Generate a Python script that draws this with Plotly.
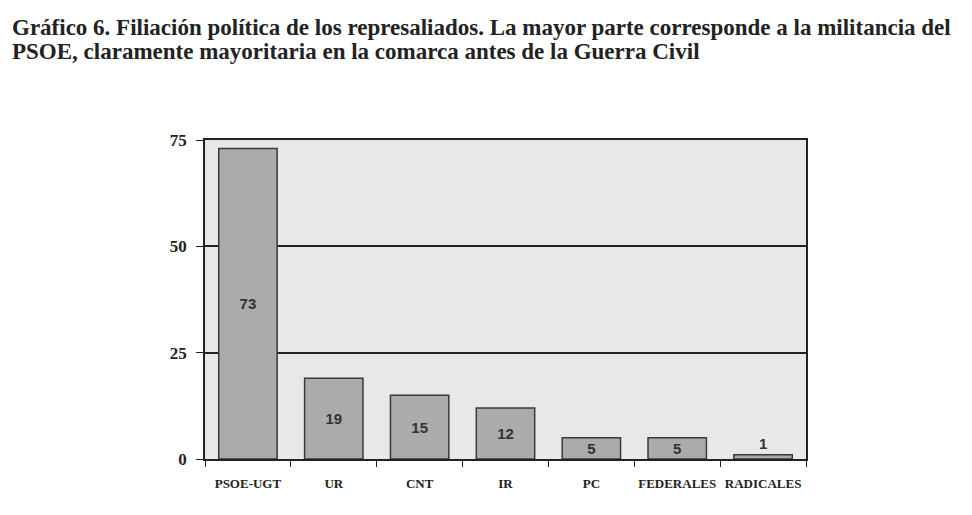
import plotly.graph_objects as go

# Afiliación política de los represaliados
partidos = ["PSOE-UGT", "UR", "CNT", "IR", "PC", "FEDERALES", "RADICALES"]
represaliados = [73, 19, 15, 12, 5, 5, 1]
posicion_texto = ["inside", "inside", "inside", "inside", "inside", "inside", "outside"]
y_ticks = [0, 25, 50, 75]

titulo = [
    "Gráfico 6. Filiación política de los represaliados. La mayor parte corresponde a la militancia del",
    "PSOE, claramente mayoritaria en la comarca antes de la Guerra Civil",
]

serif = "Liberation Serif, Times New Roman, serif"

# the page body adds 8px around the figure
W, H = 964, 507
L, T, R, B = 197, 132, 166, 56
pw, ph = W - L - R, H - T - B

fig = go.Figure(go.Bar(
    x=partidos,
    y=represaliados,
    text=represaliados,
    textposition=posicion_texto,
    insidetextanchor="middle",
    textangle=0,
    textfont=dict(family="Liberation Sans, Arial, sans-serif", size=15,
                  color="#333333", weight="bold"),
    constraintext="none",
    cliponaxis=False,
    marker=dict(color="#ababab", line=dict(color="#3a3a3a", width=1.5)),
))

fig.update_layout(
    width=W,
    height=H,
    margin=dict(l=L, r=R, t=T, b=B, autoexpand=False),
    paper_bgcolor="white",
    plot_bgcolor="#e8e8e8",
    bargap=0.32,
    showlegend=False,
    font=dict(family=serif, color="black"),
)

# two title lines, placed one by one for the tight line spacing
for i, linea in enumerate(titulo):
    fig.add_annotation(
        text=linea,
        xref="paper", yref="paper",
        x=(2 - L) / pw, y=1 + (T - (20 + 24 * i)) / ph,
        xanchor="left", yanchor="middle",
        showarrow=False,
        font=dict(family=serif, size=23, color="#222222", weight="bold"),
    )

fig.update_xaxes(
    showline=True, linecolor="#222222", linewidth=1.5, mirror=True,
    ticks="outside", tickson="boundaries", ticklen=6, tickcolor="#222222",
    tickfont=dict(family=serif, size=13, color="#222222", weight="bold"),
    tickangle=0, automargin=False,
    ticklabelstandoff=12,
    showgrid=False,
)

fig.update_yaxes(
    range=[0, 75],
    tickvals=y_ticks,
    showline=True, linecolor="#222222", linewidth=1.5, mirror=True,
    ticks="outside", ticklen=7, tickcolor="#222222",
    tickfont=dict(family=serif, size=17, color="#222222", weight="bold"),
    ticklabelstandoff=6, automargin=False,
    showgrid=True, gridcolor="#222222", gridwidth=1.8,
    zeroline=False,
)

fig.write_html("out.html")
